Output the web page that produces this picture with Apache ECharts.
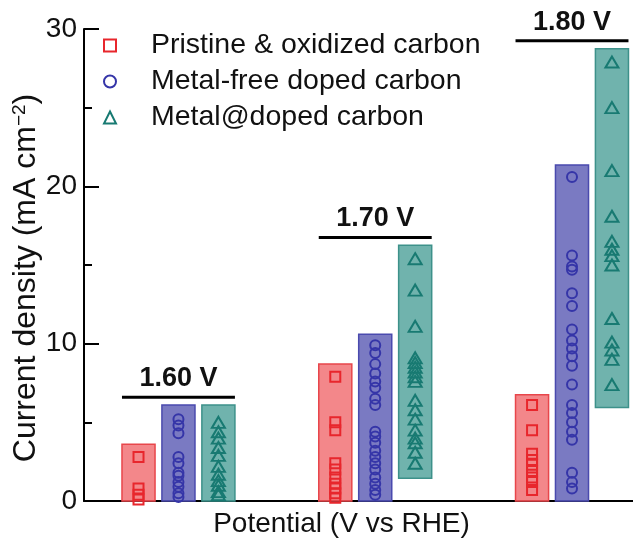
<!DOCTYPE html>
<html>
<head>
<meta charset="utf-8">
<script src="https://cdn.jsdelivr.net/npm/echarts@6/dist/echarts.min.js"></script>
<style>html,body{margin:0;padding:0;background:#fff}#c{width:633px;height:540px}</style>
</head>
<body>
<div id="c"></div>
<script>
// ---- data ----
const potentials = [1.6, 1.7, 1.8];
const groupLabels = ['1.60 V', '1.70 V', '1.80 V'];
const seriesNames = ['Pristine & oxidized carbon', 'Metal-free doped carbon', 'Metal@doped carbon'];
const yTicks = [0, 10, 20, 30];

// individual catalyst points per potential
const pristine16 = [2.8, 0.8, 0.4, 0.1];
const pristine17 = [7.9, 5.0, 4.5, 2.4, 2.0, 1.5, 1.1, 0.8, 0.5, 0.2];
const pristine18 = [6.1, 4.5, 3.0, 2.6, 2.3, 1.9, 1.5, 1.2, 0.7];

const metalFree16 = [5.2, 4.8, 4.3, 2.8, 2.4, 1.8, 1.6, 1.2, 0.9, 0.5, 0.25];
const metalFree17 = [9.9, 9.4, 8.7, 8.1, 7.6, 7.2, 6.5, 6.1, 4.4, 4.1, 3.7, 3.2, 2.8, 2.4, 2.0, 1.5, 1.1, 0.7, 0.4];
const metalFree18 = [20.6, 15.6, 14.9, 14.7, 13.2, 12.4, 10.9, 10.2, 9.7, 9.2, 8.6, 7.4, 6.1, 5.6, 5.0, 4.4, 3.9, 1.8, 1.2, 0.8];

const metal16 = [5.0, 4.4, 4.0, 3.4, 2.9, 2.2, 1.7, 1.3, 1.0, 0.6, 0.4];
const metal17 = [15.4, 13.4, 11.1, 9.1, 8.8, 8.5, 8.2, 7.9, 7.6, 6.4, 5.8, 5.2, 4.5, 4.0, 3.7, 3.1, 2.4];
const metal18 = [27.9, 25.0, 21.0, 18.1, 16.5, 16.0, 15.6, 15.0, 11.6, 10.1, 9.6, 9.0, 7.4];

// range bars (low / high) per potential
const pristineLow = [0, 0, 0];
const pristineHigh = [3.6, 8.7, 6.75];
const metalFreeLow = [0, 0, 0];
const metalFreeHigh = [6.1, 10.6, 21.35];
const metalLow = [0, 1.45, 5.95];
const metalHigh = [6.1, 16.25, 28.75];

// ---- layout / style ----
const FONT = '"Liberation Sans", Arial, sans-serif';
const OFFSET = 0.0203;   // category offset in volts
const BARW = 0.0168;     // bar width in volts
const colors = [
  {fill: 'rgba(240,108,112,0.82)', border: '#e8464b', mark: '#e8262c'},
  {fill: 'rgba(104,104,186,0.88)', border: '#4a4aae', mark: '#3535a8'},
  {fill: 'rgba(88,166,160,0.86)', border: '#3d918a', mark: '#187a72'}
];
const symbols = ['rect', 'circle', 'triangle'];
const symbolSizes = [10, 10, [13, 11]];

const pointSets = [
  [pristine16, pristine17, pristine18],
  [metalFree16, metalFree17, metalFree18],
  [metal16, metal17, metal18]
];
const lows = [pristineLow, metalFreeLow, metalLow];
const highs = [pristineHigh, metalFreeHigh, metalHigh];
const offsets = [-OFFSET, 0, OFFSET];

const series = [];
// range bars
for (let s = 0; s < 3; s++) {
  series.push({
    type: 'custom',
    name: seriesNames[s] + ' range',
    z: 1,
    silent: true,
    data: potentials.map((p, i) => [p + offsets[s], lows[s][i], highs[s][i]]),
    renderItem: (params, api) => {
      const x = api.value(0);
      const p1 = api.coord([x - BARW / 2, api.value(2)]);
      const p2 = api.coord([x + BARW / 2, api.value(1)]);
      return {
        type: 'rect',
        shape: {x: p1[0], y: p1[1], width: p2[0] - p1[0], height: p2[1] - p1[1]},
        style: {fill: colors[s].fill, stroke: colors[s].border, lineWidth: 1.5}
      };
    }
  });
}
// points
for (let s = 0; s < 3; s++) {
  const data = [];
  potentials.forEach((p, i) => pointSets[s][i].forEach(v => data.push([p + offsets[s], v])));
  series.push({
    type: 'scatter',
    name: seriesNames[s],
    z: 3,
    symbol: symbols[s],
    symbolSize: symbolSizes[s],
    itemStyle: {color: 'rgba(0,0,0,0)', borderColor: colors[s].mark, borderWidth: 2, opacity: 1},
    data: data
  });
}
// group labels with bars
const levels = potentials.map((p, i) => Math.max(pristineHigh[i], metalFreeHigh[i], metalHigh[i]) + 0.5);
series.push({
  type: 'custom',
  name: 'labels',
  z: 5,
  silent: true,
  clip: false,
  data: potentials.map((p, i) => [p, levels[i], i]),
  renderItem: (params, api) => {
    const x = api.value(0), y = api.value(1), idx = api.value(2);
    const a = api.coord([x - OFFSET - BARW / 2, y]);
    const b = api.coord([x + OFFSET + BARW / 2, y]);
    return {
      type: 'group',
      children: [
        {type: 'line', shape: {x1: a[0], y1: a[1], x2: b[0], y2: b[1]}, style: {stroke: '#000', lineWidth: 3}},
        {type: 'text', x: (a[0] + b[0]) / 2, y: a[1] - 5,
         style: {text: groupLabels[idx], fontSize: 27, fontWeight: 'bold', fontFamily: FONT, fill: '#111',
                 textAlign: 'center', textVerticalAlign: 'bottom'}}
      ]
    };
  }
});

const chart = echarts.init(document.getElementById('c'), null, {renderer: 'canvas'});
chart.setOption({
  animation: false,
  backgroundColor: '#fff',
  grid: {left: 84, right: 0, top: 29, bottom: 39, containLabel: false, outerBoundsMode: 'none'},
  legend: {
    orient: 'vertical',
    left: 103,
    top: 31,
    padding: 0,
    itemGap: 7,
    itemWidth: 12,
    itemHeight: 12,
    selectedMode: false,
    data: seriesNames,
    itemStyle: {borderWidth: 2},
    textStyle: {fontSize: 28.5, fontFamily: FONT, color: '#111', padding: [0, 0, 0, 30]}
  },
  xAxis: {
    type: 'value',
    min: 1.552,
    max: 1.831,
    name: 'Potential (V vs RHE)',
    nameLocation: 'middle',
    nameGap: 9,
    nameMoveOverlap: false,
    nameTextStyle: {fontSize: 28, fontFamily: FONT, color: '#111', padding: [0, 34, 0, 0], verticalAlign: 'top'},
    axisLine: {show: true, onZero: false, lineStyle: {color: '#000', width: 2}},
    axisTick: {show: false},
    axisLabel: {show: false},
    splitLine: {show: false}
  },
  yAxis: [{
    type: 'value',
    min: 0,
    max: 30,
    interval: 10,
    name: 'Current density (mA cm{sup|−2})',
    nameLocation: 'middle',
    nameGap: 42,
    nameMoveOverlap: false,
    nameTextStyle: {
      fontSize: 32, fontFamily: FONT, color: '#111', padding: [0, 26, 0, 0],
      rich: {sup: {fontSize: 19, fontFamily: FONT, color: '#111', verticalAlign: 'top', lineHeight: 20}}
    },
    axisLine: {show: true, lineStyle: {color: '#000', width: 2}},
    axisTick: {show: true, inside: true, length: 15, lineStyle: {color: '#000', width: 2}},
    axisLabel: {fontSize: 28, fontFamily: FONT, color: '#111', margin: 7,
                formatter: v => (yTicks.indexOf(v) >= 0 ? String(v) : '')},
    splitLine: {show: false}
  }, {
    // minor ticks (every 5) drawn inside on the same left axis position
    type: 'value',
    position: 'left',
    min: 0,
    max: 30,
    interval: 5,
    axisLine: {show: false},
    axisTick: {show: true, inside: true, length: 8, lineStyle: {color: '#000', width: 2}},
    axisLabel: {show: false},
    splitLine: {show: false}
  }],
  series: series
});
</script>
</body>
</html>
